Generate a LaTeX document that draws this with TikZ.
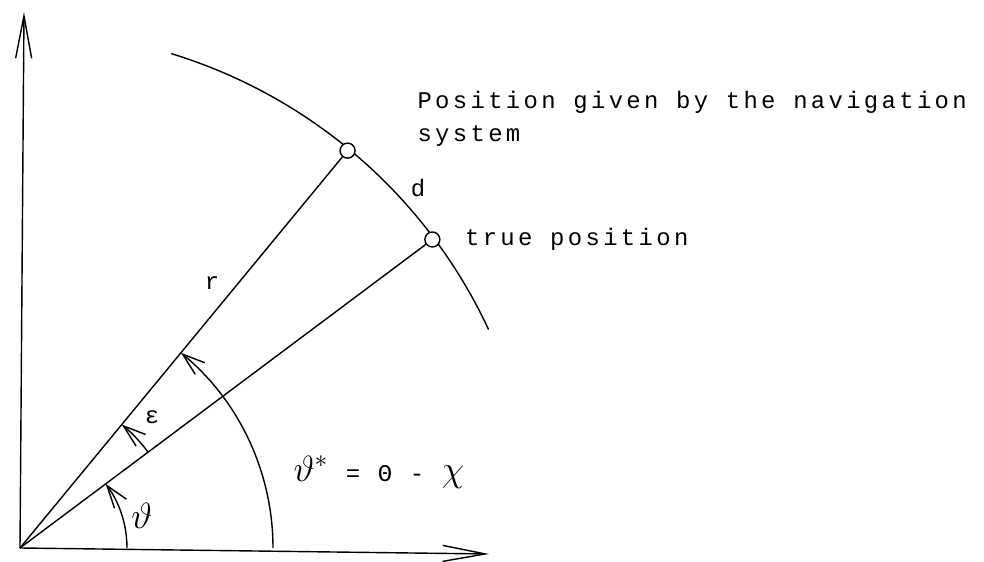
\documentclass[tikz,border=0pt]{standalone}
\usepackage{fontspec}
\setmonofont[LetterSpace=14]{Liberation Mono}
\usetikzlibrary{arrows.meta,positioning}
\begin{document}
\begin{tikzpicture}[>={Straight Barb[length=4.5mm,width=3mm]},line width=0.8pt,
  axis/.style={-{Straight Barb[length=8.5mm,width=3.2mm]}},
  lbl/.style={font=\fontsize{13.6}{18.8}\selectfont\ttfamily},
  fix/.style={draw,circle,fill=white,inner sep=0pt,minimum size=0.3cm}]
  \useasboundingbox (-0.4,-0.28) rectangle (19.28,10.96);
  \coordinate (O) at (0,0);
  \coordinate (X) at (9.38,-0.12);
  \coordinate (Y) at (0.08,10.72);
  % axes
  \draw[axis] (O) -- (X);
  \draw[axis] (O) -- (Y);
  % circle of radius r
  \draw (25:10.34) arc[start angle=25,end angle=73,radius=10.34];
  \node[fix] (N) at (50.5:10.3) {};
  \node[fix] (T) at (36.8:10.3) {};
  \draw (O) -- (N);
  \draw (O) -- (T);
  % angles
  \draw[->] (2.14,0) arc[start angle=0,end angle=36.8,radius=2.14];
  \draw[->] (36.8:3.2) arc[start angle=36.8,end angle=50.5,radius=3.2];
  \draw[->] (5.06,0) arc[start angle=0,end angle=50.5,radius=5.06];
  % labels
  \node[lbl] (r) at (3.84,5.3) {r};
  \node[lbl] (eps) at (2.64,2.62) {ε};
  \node[font=\huge] (th) at (2.44,0.64) {$\vartheta$};
  \node[lbl] (ths) at (7.18,1.52) {{\huge$\vartheta^{*}$} = Θ - {\huge$\chi$}};
  \node[lbl] (d) at (7.96,7.2) {d};
  \node[lbl,right=0.36cm of T] (tp) {true position};
  \node[lbl,align=left,anchor=west] (nav) at (7.82,8.58) {Position given by the navigation\\system};
\end{tikzpicture}
\end{document}
